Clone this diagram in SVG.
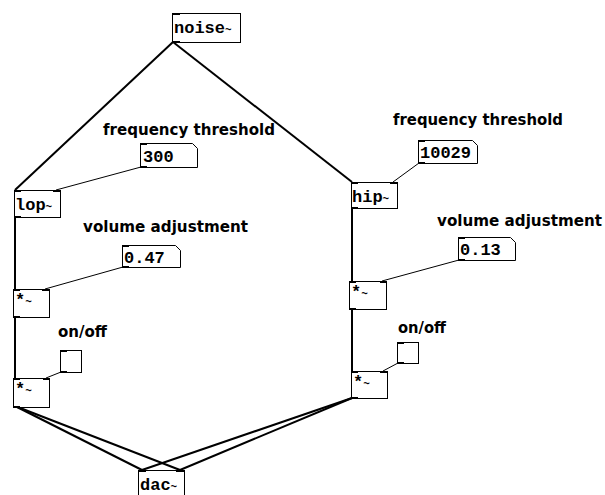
<svg xmlns="http://www.w3.org/2000/svg" width="605" height="495" viewBox="0 0 605 495">
<style>
.box{fill:#fff;stroke:#000;stroke-width:1}
.io{fill:#000}
.obj{font-family:"Liberation Mono",monospace;font-weight:bold;font-size:17px;fill:#000}
.t{font-size:11px}
.lbl{font-family:"DejaVu Sans","Liberation Sans",sans-serif;font-weight:bold;font-size:15px;fill:#000}
.sig{stroke:#000;stroke-width:2;fill:none}
.ctl{stroke:#000;stroke-width:1;fill:none}
</style>
<rect width="605" height="495" fill="#fff"/>
<g id="connectors">
<line class="sig" x1="173" y1="42" x2="15" y2="190"/>
<line class="sig" x1="173" y1="42" x2="352" y2="182"/>
<line class="ctl" x1="141" y1="167" x2="56" y2="190"/>
<line class="ctl" x1="419" y1="163" x2="393" y2="182"/>
<line class="sig" x1="15" y1="217" x2="15" y2="289"/>
<line class="sig" x1="352" y1="208" x2="352" y2="281"/>
<line class="ctl" x1="123" y1="267" x2="45" y2="289"/>
<line class="ctl" x1="459" y1="260" x2="382" y2="281"/>
<line class="sig" x1="15" y1="317" x2="15" y2="378"/>
<line class="sig" x1="352" y1="309" x2="352" y2="371"/>
<line class="ctl" x1="61" y1="372" x2="46" y2="378"/>
<line class="ctl" x1="398" y1="363" x2="383" y2="371"/>
<line class="sig" x1="15" y1="406" x2="142" y2="470"/>
<line class="sig" x1="15" y1="406" x2="180" y2="470"/>
<line class="sig" x1="352" y1="398" x2="142" y2="470"/>
<line class="sig" x1="352" y1="398" x2="180" y2="470"/>
</g>
<g id="noise">
<rect class="box" x="172.5" y="13.5" width="68" height="29"/>
<rect class="io" x="172" y="13" width="8" height="2"/>
<rect class="io" x="172" y="41" width="8" height="2"/>
<text class="obj" x="174" y="33">noise<tspan class="t">~</tspan></text>
</g>
<g id="lbl_freq_l"><text class="lbl" x="103" y="135" textLength="172" lengthAdjust="spacingAndGlyphs">frequency threshold</text></g>
<g id="num300">
<path class="box" d="M140.5 143.5 H192.5 L197.5 148.5 V167.5 H140.5 Z"/>
<rect class="io" x="140" y="143" width="7" height="2"/>
<rect class="io" x="140" y="166" width="7" height="2"/>
<text class="obj" x="143" y="162">300</text>
</g>
<g id="lop">
<rect class="box" x="14.5" y="190.5" width="46" height="27"/>
<rect class="io" x="14" y="190" width="7" height="2"/>
<rect class="io" x="53" y="190" width="7" height="2"/>
<rect class="io" x="14" y="216" width="7" height="2"/>
<text class="obj" x="15" y="210">lop<tspan class="t">~</tspan></text>
</g>
<g id="lbl_freq_r"><text class="lbl" x="393" y="125" textLength="170" lengthAdjust="spacingAndGlyphs">frequency threshold</text></g>
<g id="num10029">
<path class="box" d="M418.5 140.5 H472.5 L477.5 145.5 V163.5 H418.5 Z"/>
<rect class="io" x="418" y="140" width="7" height="2"/>
<rect class="io" x="418" y="162" width="7" height="2"/>
<text class="obj" x="420" y="158">10029</text>
</g>
<g id="hip">
<rect class="box" x="351.5" y="182.5" width="46" height="26"/>
<rect class="io" x="351" y="182" width="7" height="2"/>
<rect class="io" x="390" y="182" width="7" height="2"/>
<rect class="io" x="351" y="207" width="7" height="2"/>
<text class="obj" x="352" y="202">hip<tspan class="t">~</tspan></text>
</g>
<g id="lbl_vol_l"><text class="lbl" x="83" y="232" textLength="165" lengthAdjust="spacingAndGlyphs">volume adjustment</text></g>
<g id="num047">
<path class="box" d="M122.5 245.5 H175.5 L180.5 250.5 V267.5 H122.5 Z"/>
<rect class="io" x="122" y="245" width="7" height="2"/>
<rect class="io" x="122" y="266" width="7" height="2"/>
<text class="obj" x="124" y="263">0.47</text>
</g>
<g id="mul1">
<rect class="box" x="13.5" y="289.5" width="36" height="28"/>
<rect class="io" x="13" y="289" width="7" height="2"/>
<rect class="io" x="42" y="289" width="7" height="2"/>
<rect class="io" x="13" y="316" width="7" height="2"/>
<text class="obj" x="15" y="305" font-size="13">*<tspan class="t">~</tspan></text>
</g>
<g id="lbl_vol_r"><text class="lbl" x="437" y="226" textLength="165" lengthAdjust="spacingAndGlyphs">volume adjustment</text></g>
<g id="num013">
<path class="box" d="M458.5 237.5 H510.5 L515.5 242.5 V260.5 H458.5 Z"/>
<rect class="io" x="458" y="237" width="7" height="2"/>
<rect class="io" x="458" y="259" width="7" height="2"/>
<text class="obj" x="460" y="255">0.13</text>
</g>
<g id="mul2">
<rect class="box" x="349.5" y="281.5" width="37" height="28"/>
<rect class="io" x="349" y="281" width="7" height="2"/>
<rect class="io" x="380" y="281" width="7" height="2"/>
<rect class="io" x="349" y="308" width="7" height="2"/>
<text class="obj" x="351" y="297" font-size="13">*<tspan class="t">~</tspan></text>
</g>
<g id="lbl_onoff_l"><text class="lbl" x="58" y="337" textLength="49" lengthAdjust="spacingAndGlyphs">on/off</text></g>
<g id="tgl1">
<rect class="box" x="60.5" y="350.5" width="21" height="22"/>
<rect class="io" x="60" y="350" width="7" height="2"/>
<rect class="io" x="60" y="371" width="7" height="2"/>
</g>
<g id="mul3">
<rect class="box" x="13.5" y="378.5" width="36" height="29"/>
<rect class="io" x="13" y="378" width="7" height="2"/>
<rect class="io" x="43" y="378" width="7" height="2"/>
<rect class="io" x="13" y="406" width="7" height="2"/>
<text class="obj" x="15" y="394" font-size="13">*<tspan class="t">~</tspan></text>
</g>
<g id="lbl_onoff_r"><text class="lbl" x="398" y="333" textLength="48" lengthAdjust="spacingAndGlyphs">on/off</text></g>
<g id="tgl2">
<rect class="box" x="397.5" y="342.5" width="21" height="21"/>
<rect class="io" x="397" y="342" width="7" height="2"/>
<rect class="io" x="397" y="362" width="7" height="2"/>
</g>
<g id="mul4">
<rect class="box" x="351.5" y="371.5" width="36" height="27"/>
<rect class="io" x="351" y="371" width="7" height="2"/>
<rect class="io" x="380" y="371" width="7" height="2"/>
<rect class="io" x="351" y="397" width="7" height="2"/>
<text class="obj" x="353" y="387" font-size="13">*<tspan class="t">~</tspan></text>
</g>
<g id="dac">
<rect class="box" x="138.5" y="470.5" width="46" height="27"/>
<rect class="io" x="138" y="470" width="8" height="2"/>
<rect class="io" x="176" y="470" width="8" height="2"/>
<text class="obj" x="140" y="490">dac<tspan class="t">~</tspan></text>
</g>
</svg>
